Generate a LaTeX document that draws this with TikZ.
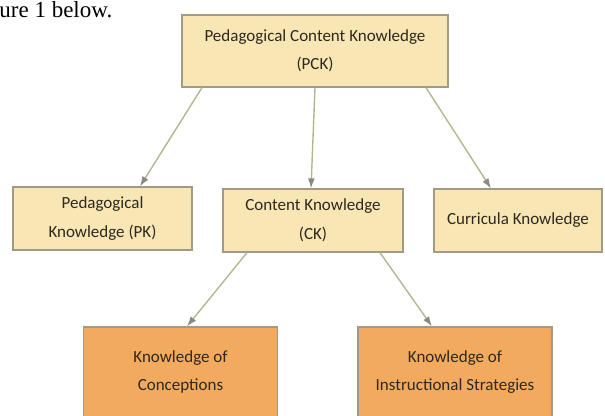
\documentclass[tikz,border=0pt]{standalone}
\usepackage{fontspec}
\setmainfont{Carlito}
\newfontfamily\captionfont{Liberation Serif}
\usepackage{tikz}
\usetikzlibrary{arrows.meta}
\usetikzlibrary{positioning}
\usepackage{xcolor}
\definecolor{boxfill}{HTML}{F8E6B4}
\definecolor{orangefill}{HTML}{F2AB5E}
\definecolor{boxline}{HTML}{A39A86}
\definecolor{boxtext}{HTML}{2E2820}
\definecolor{arrowline}{HTML}{B4B690}
\definecolor{arrowhead}{HTML}{8A8A80}
\tikzset{
  % Common styles for the diagram
  >=Latex,
  line/.style={draw=arrowline, line width=1.4pt, -{Latex[length=10pt, width=7pt, color=arrowhead]}}
}

\begin{document}
\begin{tikzpicture}[x=1pt, y=-1pt, node distance=170pt, thick]
    % Define styles
    \tikzstyle{knowbox} = [rectangle, draw=boxline, line width=1.2pt, fill=boxfill, text=boxtext, align=center, inner sep=0pt, font=\fontsize{17}{28.5}\selectfont]
    \tikzstyle{strandbox} = [knowbox, fill=orangefill, minimum width=194pt, minimum height=90pt]

    \useasboundingbox (0,0) rectangle (605,415);
    \clip (0,0) rectangle (605,415);

    % Caption fragment above the figure
    \node [anchor=base west, inner sep=0pt, font=\captionfont\fontsize{23}{28}\selectfont] (caption) at (-1,17) {ure 1 below.};

    % Place nodes - top
    \node [knowbox, minimum width=266pt, minimum height=72pt] (pck) at (315,51) {Pedagogical Content Knowledge\\(PCK)};

    % Place nodes - middle row
    \node [knowbox, minimum width=179pt, minimum height=63pt, below of=pck, node distance=167.5pt, xshift=-212.5pt] (pk) {Pedagogical\\Knowledge (PK)};
    \node [knowbox, minimum width=180pt, minimum height=63pt, below of=pck, node distance=169.5pt, xshift=-2pt] (ck) {Content Knowledge\\(CK)};
    \node [knowbox, minimum width=168pt, minimum height=63pt, below of=pck, node distance=169.5pt, xshift=203pt] (curricula) {Curricula Knowledge};

    % Place nodes - bottom row
    \node [strandbox, below of=ck, node distance=151.5pt, xshift=-132.5pt] (conceptions) {Knowledge of\\Conceptions};
    \node [strandbox, below of=ck, node distance=151.5pt, xshift=142pt] (strategies) {Knowledge of\\Instructional Strategies};

    % Draw edges from PCK
    \path [line] ([xshift=-113pt]pck.south) -- ([xshift=37.5pt]pk.north);
    \path [line] (pck.south) -- ([xshift=-2pt]ck.north);
    \path [line] ([xshift=111pt]pck.south) -- ([xshift=-27pt]curricula.north);

    % Draw edges from CK
    \path [line] ([xshift=-66pt]ck.south) -- ([xshift=6.5pt]conceptions.north);
    \path [line] ([xshift=67pt]ck.south) -- ([xshift=-23pt]strategies.north);

\end{tikzpicture}
\end{document}
